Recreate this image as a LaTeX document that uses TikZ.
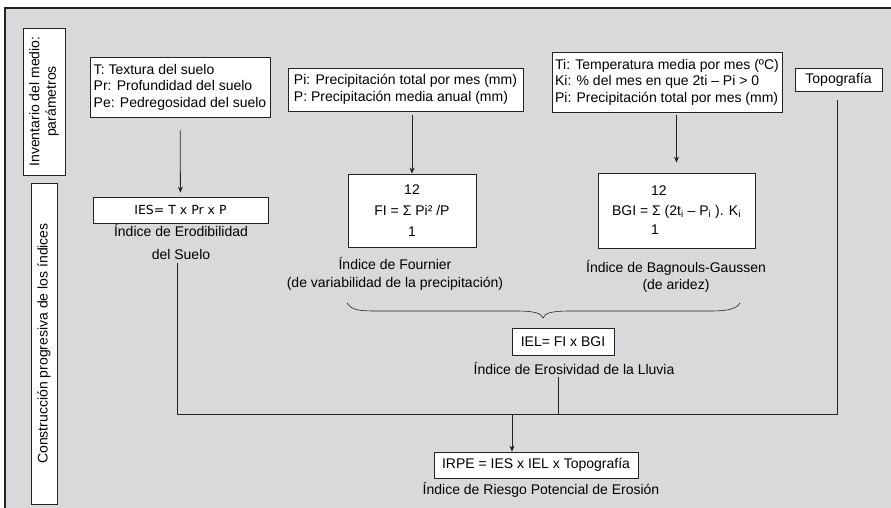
\documentclass[tikz,border=0pt]{standalone}
\usepackage{fontspec}
\setmainfont{Liberation Sans}
\newfontfamily\formfont{DejaVu Sans}
\usetikzlibrary{arrows.meta, positioning, calc}
\definecolor{cPanel}{RGB}{216,217,219}
\definecolor{cLine}{RGB}{35,35,35}
\tikzset{
	sidebox/.style={rectangle, draw=cLine, fill=white, rotate=90, align=center, inner sep=1pt},
	parbox/.style ={rectangle, draw=cLine, fill=white, align=left, inner sep=2pt},
	formbox/.style={rectangle, draw=cLine, fill=white, align=center, inner sep=2pt},
	lbl/.style    ={align=center, inner sep=0pt},
	link/.style   ={draw=cLine, line width=0.8pt},
	arr/.style    ={link, -{Stealth[length=6pt, width=5pt]}},
}

\begin{document}
\begin{tikzpicture}[x=1pt, y=-1pt, font=\fontsize{14}{16.5}\selectfont, line width=0.8pt]
	\useasboundingbox (0,0) rectangle (891,508);
	\fill[white] (0,0) rectangle (891,508);
	\fill[cPanel] (5,8) rectangle (891,508);
	\draw[cLine, line width=1.6pt] (5,508) -- (5,8) -- (891,8);
	% side headings
	\node[sidebox, minimum width=147pt, minimum height=42pt] (inv) at (44,101.5) {Inventario del medio:\\parámetros};
	\node[sidebox, minimum width=321pt, minimum height=26pt] (cons) at (44,343.5) {Construcción progresiva de los índices};
	% parameters
	\node[parbox, minimum width=180pt, minimum height=60pt] (tex) at (180,87) {T: Textura del suelo\\Pr: Profundidad del suelo\\Pe: Pedregosidad del suelo};
	\node[parbox, minimum width=235pt, minimum height=43pt] (prec) at (405.5,89.5) {Pi: Precipitación total por mes (mm)\\P: Precipitación media anual (mm)};
	\node[parbox, minimum width=230pt, minimum height=60pt] (temp) at (667,82) {Ti: Temperatura media por mes (ºC)\\Ki: \% del mes en que 2ti – Pi > 0\\Pi: Precipitación total por mes (mm)};
	\node[parbox, minimum width=87pt, minimum height=23pt] (topo) at (838.5,79.5) {Topografía};
	% indices
	\node[formbox, minimum width=175pt, minimum height=26pt, font=\formfont\fontsize{12.5}{14}\selectfont] (ies) at (180.5,210) {IES= T x Pr x P};
	\node[formbox, minimum width=128pt, minimum height=73pt] (fi) at (412,210.5) {12\\[4.5pt]FI = Σ Pi² /P\\[4.5pt]1};
	\node[formbox, minimum width=157pt, minimum height=75pt, align=left] (bgi) at (676.5,210.5) {\hspace*{39pt}12\\[3pt]BGI = Σ (2t\textsubscript{i} – P\textsubscript{i} ). K\textsubscript{i}\\[3pt]\hspace*{39pt}1};
	\node[formbox, minimum width=102pt, minimum height=27pt] (iel) at (563,341.5) {IEL= FI x BGI};
	\node[formbox, minimum width=204pt, minimum height=26pt] (irpe) at (536,465) {IRPE = IES x IEL x Topografía};
	% captions
	\node[lbl] (iesl) at (181,241.5) {Índice de Erodibilidad\\[6.5pt]del Suelo};
	\node[lbl] (fil) at (395,274) {Índice de Fournier\\[1.5pt](de variabilidad de la precipitación)};
	\node[lbl] (bgil) at (676,276.5) {Índice de Bagnouls-Gaussen\\(de aridez)};
	\node[lbl] (iell) at (574,368) {Índice de Erosividad de la Lluvia};
	\node[lbl] (irpel) at (541,490) {Índice de Riesgo Potencial de Erosión};
	% junctions
	\coordinate (jl) at (177,414);
	\coordinate (jc) at (558,414);
	\coordinate (jm) at (512,414);
	\coordinate (jr) at (837,414);
	% arrows
	\draw[arr, shorten <=13pt, shorten >=4pt] (tex) -- (ies);
	\draw[arr, shorten <=4pt] (prec.south -| fi.north) -- (fi.north);
	\draw[arr, shorten <=3pt, shorten >=10pt] (temp.south -| bgi.north) -- (bgi.north);
	\draw[link] ([yshift=-3pt]iesl.south -| jl) -- (jl) -- (jr) -- ([yshift=-9pt]topo.south -| jr);
	\draw[link] ([yshift=-2pt]iell.south -| jc) -- (jc);
	\draw[arr] (jm) -- (irpe.north -| jm);
	% brace
	\draw[link, line width=0.6pt] (347,303) .. controls (352,311) and (362,311) .. (380,311) -- (515,311)
		.. controls (535,311) and (541,313) .. (543,318) .. controls (545,313) and (551,311) .. (571,311)
		-- (710,311) .. controls (728,311) and (736,309) .. (740,303);
\end{tikzpicture}
\end{document}
